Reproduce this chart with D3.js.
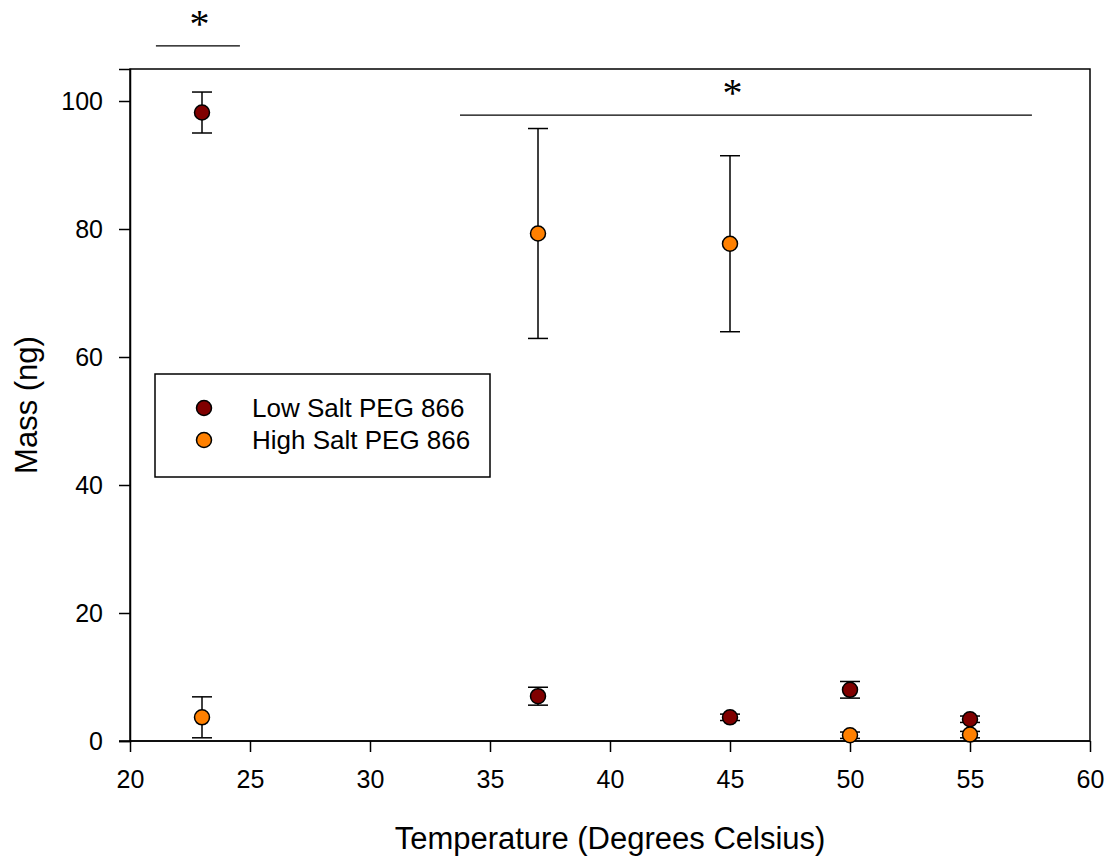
<!DOCTYPE html>
<html>
<head>
<meta charset="utf-8">
<script src="https://cdn.jsdelivr.net/npm/d3@7"></script>
<style>
  body { margin: 0; background: #fff; }
  text { font-family: "Liberation Sans", Arial, sans-serif; fill: #000; }
</style>
</head>
<body>
<div id="chart"></div>
<script>
const width = 1106;
const height = 856;

// temperatures, shared by both series
const temps = [23, 37, 45, 50, 55];

// Low Salt PEG 866
const lowMean = [98.2, 7.0, 3.7, 8.0, 3.4];
const lowErr = [3.2, 1.4, 0.5, 1.3, 0.5];

// High Salt PEG 866
const highMean = [3.7, 79.3, 77.7, 0.9, 1.0];
const highErr = [3.2, 16.4, 13.75, 0.5, 0.5];

const xTicks = [20, 25, 30, 35, 40, 45, 50, 55, 60];
const yTicks = [0, 20, 40, 60, 80, 100];

// significance bars: [x start, x end, y, asterisk x]
const sigBars = [
  [21.08, 24.58, 108.6, 22.9],
  [33.75, 57.58, 97.8, 45.1]
];

const series = [
  { name: "Low Salt PEG 866", color: "#800000", mean: lowMean, err: lowErr },
  { name: "High Salt PEG 866", color: "#ff8000", mean: highMean, err: highErr }
];

const margin = { left: 130, right: 16, top: 69, bottom: 115 };

const svg = d3.select('#chart').append('svg')
  .attr('width', width)
  .attr('height', height);

const xScale = d3.scaleLinear()
  .domain([20, 60])
  .range([margin.left, width - margin.right]);

const yScale = d3.scaleLinear()
  .domain([0, 105])
  .range([height - margin.bottom, margin.top]);

// frame
svg.append('rect')
  .attr('x', xScale(20))
  .attr('y', yScale(105))
  .attr('width', xScale(60) - xScale(20))
  .attr('height', yScale(0) - yScale(105))
  .attr('fill', 'none')
  .attr('stroke', '#000')
  .attr('stroke-width', 1.5);

// x axis
const xAxis = svg.append('g')
  .attr('transform', `translate(0,${yScale(0)})`)
  .call(d3.axisBottom(xScale).tickValues(xTicks).tickSize(11).tickPadding(18));

// y axis
const yAxis = svg.append('g')
  .attr('transform', `translate(${xScale(20)},0)`)
  .call(d3.axisLeft(yScale).tickValues(yTicks).tickSize(11).tickPadding(16));

[xAxis, yAxis].forEach(ax => {
  ax.attr('font-size', null).attr('font-family', null);
  ax.select('.domain').attr('stroke-width', 1.5);
  ax.selectAll('.tick line').attr('stroke-width', 1.5);
  ax.selectAll('.tick text')
    .style('font-size', '25px');
});
xAxis.select('.domain').attr('d', `M${xScale(20) - 11},0H${xScale(60)}`);

// axis titles
svg.append('text')
  .attr('x', (xScale(20) + xScale(60)) / 2)
  .attr('y', 849)
  .attr('text-anchor', 'middle')
  .style('font-size', '31px')
  .text('Temperature (Degrees Celsius)');

svg.append('text')
  .attr('transform', `translate(37,${(yScale(0) + yScale(105)) / 2}) rotate(-90)`)
  .attr('text-anchor', 'middle')
  .style('font-size', '31px')
  .text('Mass (ng)');

// error bars then points
series.forEach(s => {
  const g = svg.append('g');
  temps.forEach((t, i) => {
    const cx = xScale(t);
    const top = yScale(s.mean[i] + s.err[i]);
    const bot = yScale(s.mean[i] - s.err[i]);
    g.append('line')
      .attr('x1', cx).attr('x2', cx)
      .attr('y1', top).attr('y2', bot)
      .attr('stroke', '#000').attr('stroke-width', 1.5);
    [top, bot].forEach(y => {
      g.append('line')
        .attr('x1', cx - 10).attr('x2', cx + 10)
        .attr('y1', y).attr('y2', y)
        .attr('stroke', '#000').attr('stroke-width', 1.5);
    });
  });
});

series.forEach(s => {
  svg.append('g').selectAll('circle')
    .data(temps)
    .enter().append('circle')
    .attr('cx', d => xScale(d))
    .attr('cy', (d, i) => yScale(s.mean[i]))
    .attr('r', 7.5)
    .attr('fill', s.color)
    .attr('stroke', '#000')
    .attr('stroke-width', 1.5);
});

// significance markers
sigBars.forEach(b => {
  svg.append('line')
    .attr('x1', xScale(b[0])).attr('x2', xScale(b[1]))
    .attr('y1', yScale(b[2])).attr('y2', yScale(b[2]))
    .attr('stroke', '#000').attr('stroke-width', 1.2);
  svg.append('text')
    .attr('x', xScale(b[3]))
    .attr('y', yScale(b[2]) - 9)
    .attr('text-anchor', 'middle')
    .style('font-family', '"Liberation Serif", "Times New Roman", serif')
    .style('font-size', '40px')
    .text('*');
});

// legend
const legend = svg.append('g');
legend.append('rect')
  .attr('x', 155).attr('y', 374)
  .attr('width', 335).attr('height', 103)
  .attr('fill', '#fff')
  .attr('stroke', '#000')
  .attr('stroke-width', 1.5);

series.forEach((s, i) => {
  const y = 408 + i * 32;
  legend.append('circle')
    .attr('cx', 204).attr('cy', y)
    .attr('r', 7.5)
    .attr('fill', s.color)
    .attr('stroke', '#000')
    .attr('stroke-width', 1.5);
  legend.append('text')
    .attr('x', 252).attr('y', y + 9)
    .style('font-size', '26px')
    .text(s.name);
});
</script>
</body>
</html>
